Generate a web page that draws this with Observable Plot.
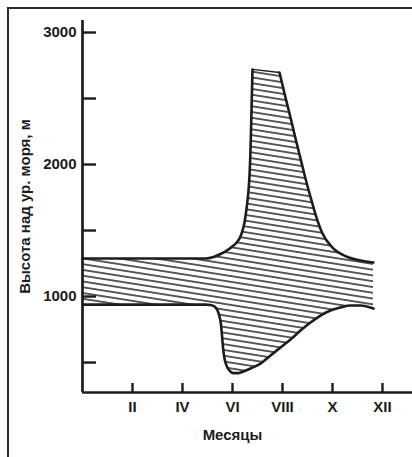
<!DOCTYPE html>
<html><head><meta charset="utf-8">
<script src="https://cdn.jsdelivr.net/npm/d3@7"></script>
<script src="https://cdn.jsdelivr.net/npm/@observablehq/plot@0.6"></script>
<style>
html,body{margin:0;padding:0;background:#fff;}
#wrap{position:relative;width:412px;height:457px;overflow:hidden;}
#border{position:absolute;left:7px;top:7px;width:430px;height:470px;border-left:2px solid #2a2a2a;border-top:2px solid #2a2a2a;}
#wrap svg{position:absolute;left:0;top:0;}
</style></head><body><div id="wrap"><div id="border"></div></div>
<script>
// Upper boundary of the belt (month, height in m)
const upperMonth  = [0, 2.32, 4.92, 5.24, 5.52, 5.8, 6.04, 6.2, 6.32, 6.4, 6.48, 6.54, 6.6, 6.64, 6.68, 6.72, 6.76, 6.8, 7.88, 8.08, 8.32, 8.54, 8.74, 8.94, 9.16, 9.36, 9.6, 10.0, 10.56, 11.12, 11.64];
const upperHeight = [1288, 1288, 1288, 1299, 1322, 1352, 1386, 1417, 1455, 1500, 1561, 1636, 1727, 1803, 1917, 2106, 2409, 2720, 2697, 2538, 2356, 2182, 2030, 1879, 1727, 1598, 1477, 1371, 1303, 1273, 1258];
// Lower boundary of the belt
const lowerMonth  = [0, 1.12, 2.32, 3.52, 4.92, 5.12, 5.28, 5.4, 5.48, 5.54, 5.58, 5.62, 5.68, 5.76, 5.88, 6.04, 6.24, 6.44, 6.72, 7.12, 7.52, 7.92, 8.32, 8.72, 9.12, 9.52, 9.92, 10.32, 10.72, 11.12, 11.64];
const lowerHeight = [939, 939, 939, 939, 939, 936, 924, 894, 848, 788, 705, 614, 530, 477, 439, 420, 420, 432, 455, 492, 553, 614, 674, 742, 803, 856, 894, 917, 932, 932, 909];

const heightTicks  = [500, 1000, 1500, 2000, 2500, 3000];
const heightLabels = [1000, 2000, 3000];
const monthTicks   = [2, 4, 6, 8, 10, 12];
const monthLabels  = ["II", "IV", "VI", "VIII", "X", "XII"];
const xTitle = "Месяцы";
const yTitle = "Высота над ур. моря, м";
const xDomain = [0, 13.2];
const yDomain = [273, 3091];

const upper = upperMonth.map((m, i) => ({month: m, h: upperHeight[i]}));
const lower = lowerMonth.map((m, i) => ({month: m, h: lowerHeight[i]}));
const band = upperMonth.map((m, i) => ({xu: m, yu: upperHeight[i], xl: lowerMonth[i], yl: lowerHeight[i]}));
// the flat top of the summer peak is drawn as a thin edge
const peak = upperHeight.indexOf(d3.max(upperHeight));
const upperLeft = upper.slice(0, peak + 1);
const upperTop = upper.slice(peak, peak + 2);
const upperRight = upper.slice(peak + 1);

const ink = "#1c1c1c";
const curve = "monotone-x";
const chart = Plot.plot({
  width: 412, height: 457,
  marginLeft: 82, marginRight: 0, marginTop: 20, marginBottom: 65,
  style: {fontFamily: '"Liberation Sans", Arial, sans-serif', fontSize: "15px", fontWeight: "bold", color: ink, background: "transparent", overflow: "visible"},
  x: {domain: xDomain},
  y: {domain: yDomain},
  marks: [
    Plot.area(band, {x1: "xl", y1: "yl", x2: "xu", y2: "yu", fill: "url(#hatch)", curve}),
    Plot.line(upperLeft, {x: "month", y: "h", stroke: ink, strokeWidth: 2.6, curve}),
    Plot.line(upperTop, {x: "month", y: "h", stroke: ink, strokeWidth: 1.3}),
    Plot.line(upperRight, {x: "month", y: "h", stroke: ink, strokeWidth: 2.6, curve}),
    Plot.line(lower, {x: "month", y: "h", stroke: ink, strokeWidth: 2.6, curve}),
    Plot.ruleX([xDomain[0]], {stroke: ink, strokeWidth: 2.7}),
    Plot.ruleY([yDomain[0]], {stroke: ink, strokeWidth: 2.7}),
    Plot.axisY({ticks: heightTicks, tickSize: -14, tickFormat: () => "", strokeWidth: 2.4, label: null}),
    Plot.axisY({ticks: heightLabels, tickSize: 0, tickPadding: 6, tickFormat: d => String(d), label: null}),
    Plot.axisX({ticks: monthTicks, tickSize: -9, tickFormat: () => "", strokeWidth: 2.4, label: null}),
    Plot.axisX({ticks: monthTicks, tickSize: 0, tickPadding: 9, tickFormat: d => monthLabels[monthTicks.indexOf(d)], label: null}),
    Plot.text([xTitle], {x: () => d3.mean([0, 12]), frameAnchor: "bottom", dy: 47, textAnchor: "middle", fill: ink, fontSize: 15, fontWeight: "bold"}),
    Plot.text([yTitle], {y: () => d3.mean(yDomain), frameAnchor: "left", dx: -57, rotate: -90, textAnchor: "middle", fill: ink, fontSize: 15, fontWeight: "bold"})
  ]
});
d3.select(chart).insert("defs", ":first-child").html(
  '<pattern id="hatch" patternUnits="userSpaceOnUse" width="40" height="5.7" patternTransform="rotate(9)">' +
  '<line x1="0" y1="2.85" x2="40" y2="2.85" stroke="#1c1c1c" stroke-width="1.2"/></pattern>');
document.getElementById("wrap").appendChild(chart);
</script>
</body></html>
